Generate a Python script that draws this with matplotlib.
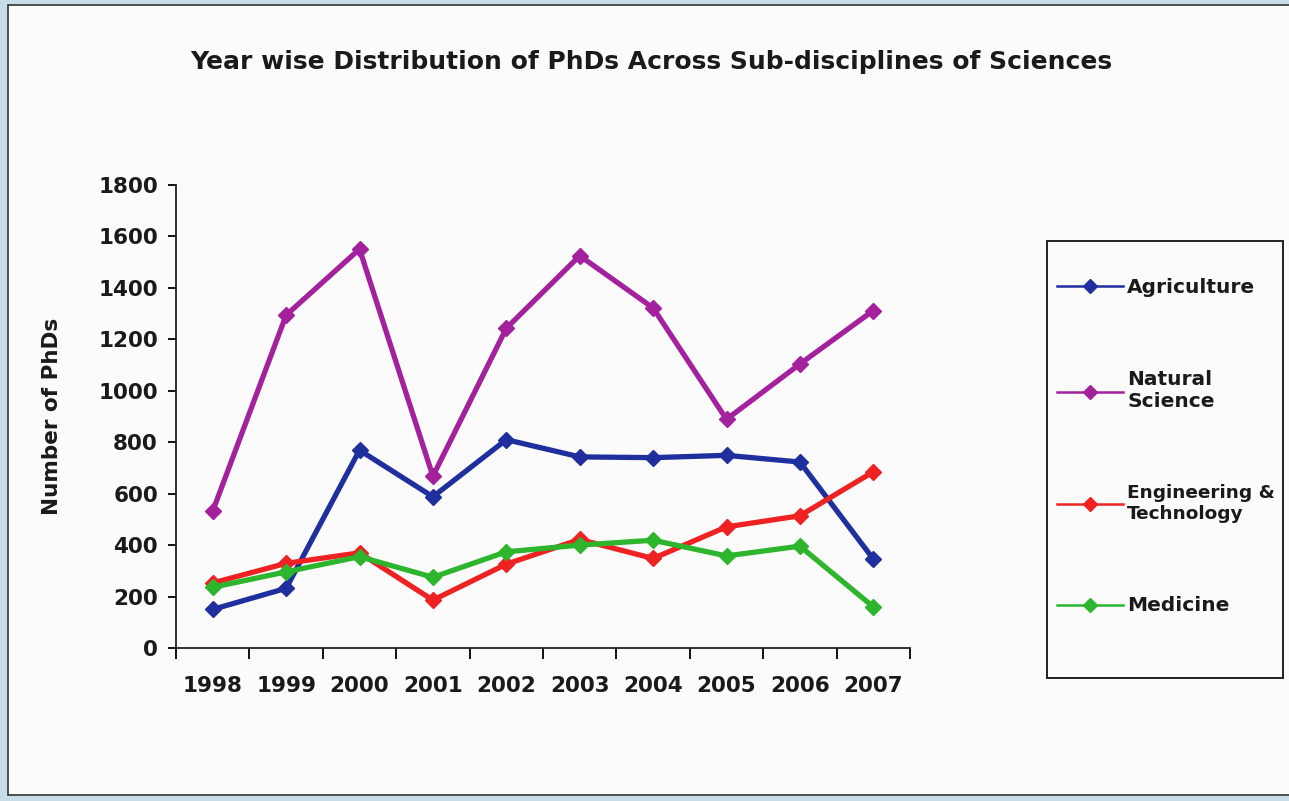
import matplotlib.pyplot as plt
from matplotlib.lines import Line2D
from matplotlib.patches import Rectangle
import numpy as np

years = ['1998', '1999', '2000', '2001', '2002', '2003', '2004', '2005', '2006', '2007']
agriculture = [150, 232, 769, 588, 810, 743, 740, 749, 723, 346]
natural_science = [532, 1294, 1551, 668, 1243, 1525, 1322, 889, 1104, 1312]
engineering = [253, 329, 370, 186, 326, 422, 348, 471, 514, 685]
medicine = [236, 296, 355, 275, 374, 400, 419, 358, 396, 160]

labels = ['Agriculture', 'Natural\nScience', 'Engineering &\nTechnology', 'Medicine']
label_sizes = [14.5, 14.5, 13.3, 14.5]
colors = ['#1f2f9e', '#a3219c', '#ee2222', '#2db52d']

plt.rcParams['font.family'] = 'DejaVu Sans'
plt.rcParams['font.weight'] = 'bold'

W, H = 1289, 801
fig = plt.figure(figsize=(12.89, 8.01), dpi=100)
fig.patch.set_facecolor('#c6dce9')
# white panel with dark border
fig.patches.append(Rectangle((8 / W, 6 / H), 1, 1 - 11 / H,
                             transform=fig.transFigure, facecolor='#fbfbfb',
                             edgecolor='#333333', linewidth=1.2, zorder=-5))
# legend frame
fig.patches.append(Rectangle((1047 / W, 1 - 678 / H), (1283 - 1047) / W, (678 - 241) / H,
                             transform=fig.transFigure, facecolor='#fbfbfb',
                             edgecolor='#222222', linewidth=1.4, zorder=-4))

ax = fig.add_axes([176 / W, 1 - 648 / H, (910 - 176) / W, (648 - 185) / H])
ax.set_facecolor('none')

xpos = np.arange(len(years))
series = [agriculture, natural_science, engineering, medicine]
for vals, col in zip(series, colors):
    ax.plot(xpos, vals, color=col, linewidth=3.8, marker='D', markersize=8,
            markeredgecolor=col, markerfacecolor=col, zorder=3)

ax.set_xlim(-0.5, 9.5)
ax.set_ylim(0, 1800)
ax.set_yticks(range(0, 1801, 200))
ax.set_xticks(np.arange(-0.5, 10, 1))
ax.set_xticklabels([])
ax.set_xticks(xpos, minor=True)
ax.set_xticklabels(years, minor=True)
ax.tick_params(axis='x', which='minor', length=0, pad=20, labelsize=15.5)
ax.tick_params(axis='x', which='major', direction='out', length=8, width=1.3)
ax.tick_params(axis='y', direction='out', length=6, width=1.3, labelsize=15.5, pad=7)
for lab in ax.get_xticklabels(minor=True) + ax.get_yticklabels():
    lab.set_fontweight('bold')
    lab.set_color('#1a1a1a')

for s in ['top', 'right']:
    ax.spines[s].set_visible(False)
for s in ['left', 'bottom']:
    ax.spines[s].set_linewidth(1.3)
    ax.spines[s].set_color('#222222')

ax.set_ylabel('Number of PhDs', fontsize=15.5, fontweight='bold', labelpad=26, color='#1a1a1a')

fig.text(651 / W, 1 - 62 / H,
         'Year wise Distribution of PhDs Across Sub-disciplines of Sciences',
         ha='center', va='center', fontsize=18, fontweight='bold', color='#1a1a1a')

handles = [Line2D([0], [0], color=c, linewidth=1.8, marker='D', markersize=7) for c in colors]
leg = fig.legend(handles, labels, loc='upper left',
                 bbox_to_anchor=(1057 / W, 1 - 278 / H),
                 frameon=False, fontsize=13.5, handlelength=3.5, handletextpad=0.25,
                 labelspacing=3.9, borderpad=0, borderaxespad=0)
for t, fs in zip(leg.get_texts(), label_sizes):
    t.set_fontweight('bold')
    t.set_fontsize(fs)
    t.set_color('#1a1a1a')

fig.savefig('out.png', dpi=100, facecolor=fig.get_facecolor())
